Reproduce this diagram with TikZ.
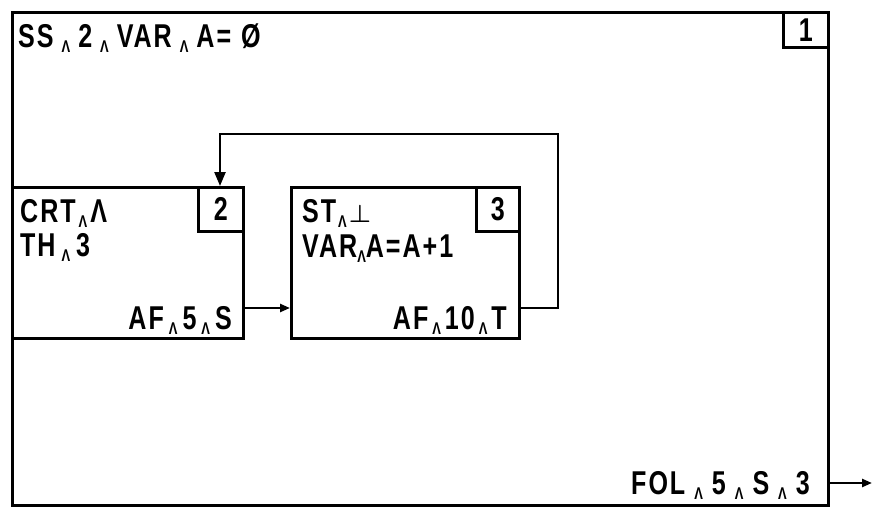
\documentclass[tikz,border=0pt]{standalone}
\usepackage{fontspec}
\usepackage{amsmath}
\setmainfont{Liberation Sans}[FakeStretch=0.76,LetterSpace=6]
\usetikzlibrary{arrows.meta}
\newcommand\cj[1][4pt]{\kern#1\raisebox{-5pt}{\fontsize{17}{17}\selectfont Λ}\kern#1}
\begin{document}
\begin{tikzpicture}[x=1pt,y=-1pt,
  lbl/.style={inner sep=0pt, font=\fontsize{33}{33}\selectfont\bfseries},
  box/.style={draw, line width=2.6pt, inner sep=0pt, anchor=north west},
  arr/.style={-{Triangle[length=10pt,width=8pt]}, line width=2.4pt},
  bigarr/.style={-{Triangle[length=14pt,width=11pt]}, line width=2.4pt}]
\useasboundingbox (0,0) rectangle (872,508);
% boxes
\node[box, minimum width=816pt, minimum height=493pt] (outer) at (11,11) {};
\node[box, minimum width=45pt, minimum height=35pt] (tag1) at (782,11) {};
\node[box, minimum width=231pt, minimum height=151pt] (b2) at (11,186) {};
\node[box, minimum width=45pt, minimum height=44pt] (tag2) at (197,186) {};
\node[box, minimum width=228pt, minimum height=151pt] (b3) at (290,186) {};
\node[box, minimum width=43pt, minimum height=44pt] (tag3) at (475,186) {};
% texts
\node[lbl, anchor=base west] (title) at (18,48) {SS\cj[8pt]2\cj[8pt]VAR\cj[8pt]A=\kern10pt Ø};
\node[lbl] (n1) at (tag1.center) {1};
\node[lbl] (n2) at (tag2.center) {2};
\node[lbl] (n3) at (tag3.center) {3};
\node[lbl, anchor=base west] (crt) at (20,222) {CRT\cj[3pt]Λ};
\node[lbl, anchor=base west] (th) at (20,256) {TH\cj[6pt]3};
\node[lbl, anchor=base east] (af2) at (232,329) {AF\cj[5pt]5\cj[5pt]S};
\node[lbl, anchor=base west] (st) at (302,222) {ST\cj[2pt]$\boldsymbol{\bot}$};
\node[lbl, anchor=base west] (var) at (302,257) {VAR\cj[0pt]A=A+1};
\node[lbl, anchor=base east] (af3) at (507,329) {AF\cj[4pt]10\cj[4pt]T};
\node[lbl, anchor=base east] (fol) at (810,494) {FOL\cj[9pt]5\cj[9pt]S\cj[9pt]3};
% connectors
\coordinate (p) at (0,308);
\coordinate (lp) at (558,134);
\coordinate (in2) at (220,186);
\coordinate (ex) at (872,483);
\draw[arr] (b2.east |- p) -- (b3.west |- p);
\draw[bigarr] (b3.east |- p) -| (lp) -| (in2);
\draw[arr] (outer.east |- ex) -- (ex);
\end{tikzpicture}
\end{document}
